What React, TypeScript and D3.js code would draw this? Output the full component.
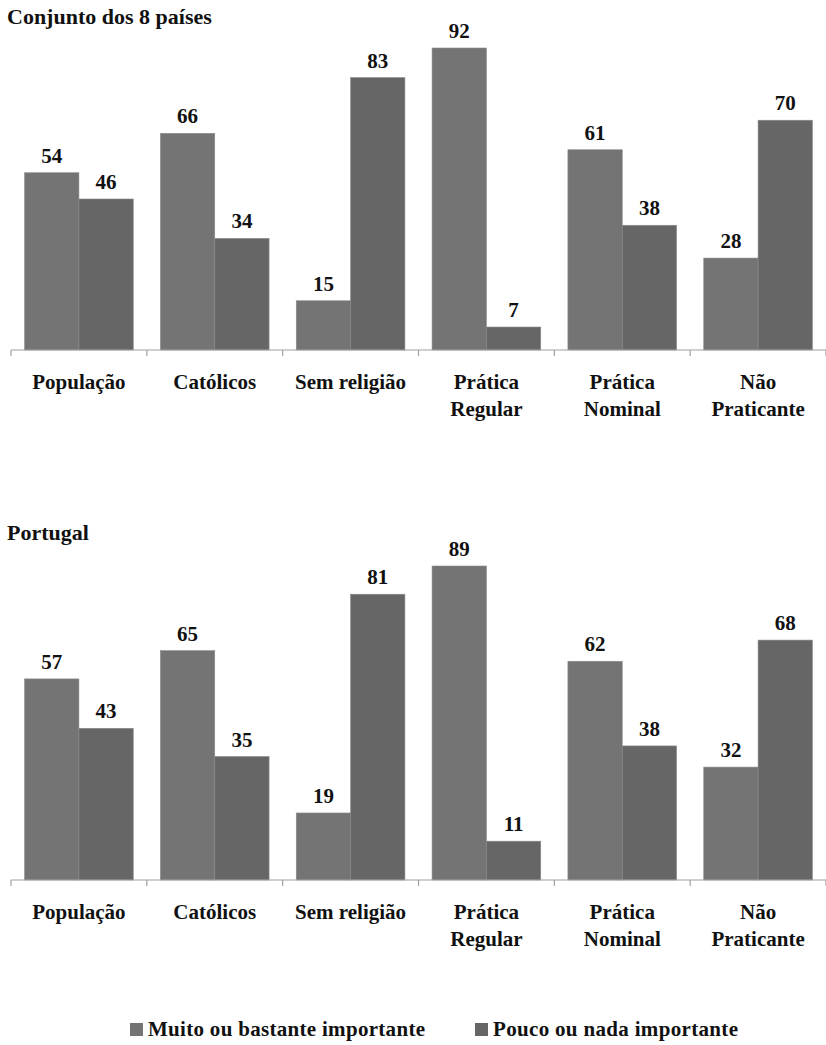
import React from 'react';
import * as d3 from 'd3';

const categories = [['População'], ['Católicos'], ['Sem religião'], ['Prática', 'Regular'], ['Prática', 'Nominal'], ['Não', 'Praticante']];
const series = ['Muito ou bastante importante', 'Pouco ou nada importante'];
const colors = ['#747474', '#666666'];

const allMuito = [54, 66, 15, 92, 61, 28];
const allPouco = [46, 34, 83, 7, 38, 70];
const ptMuito = [57, 65, 19, 89, 62, 32];
const ptPouco = [43, 35, 81, 11, 38, 68];

const font = 'Liberation Serif';

function Panel({ title, values, top, axisY, yMax }: { title: string; values: number[][]; top: number; axisY: number; yMax: number }) {
  const names = categories.map(c => c.join(' '));
  const x = d3.scaleBand().domain(names).range([11, 826]);
  const inner = d3.scaleBand().domain(series).range([x.bandwidth() * 0.1, x.bandwidth() * 0.9]);
  const y = d3.scaleLinear().domain([0, yMax]).range([axisY, top]);
  return (
    <g>
      <text x={7} y={top - 18} fontFamily={font} fontSize={22} fontWeight="bold" fill="#111">{title}</text>
      {names.map((n, i) => (
        <g key={n} transform={`translate(${x(n)},0)`}>
          {series.map((s, j) => {
            const v = values[j][i];
            return (
              <g key={s}>
                <rect x={inner(s)} y={y(v)} width={inner.bandwidth()} height={axisY - y(v)} fill={colors[j]} stroke="#8a8a8a" strokeWidth={0.6} />
                <text x={inner(s)! + inner.bandwidth() / 2} y={y(v) - 10} textAnchor="middle" fontFamily={font} fontSize={21} fontWeight="bold" fill="#111">{v}</text>
              </g>
            );
          })}
          {categories[i].map((line, k) => (
            <text key={k} x={x.bandwidth() / 2} y={axisY + 39 + k * 27} textAnchor="middle" fontFamily={font} fontSize={21} fontWeight="bold" fill="#111">{line}</text>
          ))}
        </g>
      ))}
      <line x1={11} x2={826} y1={axisY} y2={axisY} stroke="#a0a0a0" strokeWidth={1.2} />
      {d3.range(names.length + 1).map(i => {
        const tx = 11 + i * x.bandwidth();
        return <line key={i} x1={tx} x2={tx} y1={axisY} y2={axisY + 6} stroke="#a0a0a0" strokeWidth={1.2} />;
      })}
    </g>
  );
}

export default function App() {
  const legendX = [130, 475];
  const legendW = [277, 245];
  return (
    <svg width={826} height={1045} style={{ position: 'absolute', left: 0, top: 0 }}>
      <rect width={826} height={1045} fill="#fff" />
      <Panel title="Conjunto dos 8 países" values={[allMuito, allPouco]} top={42} axisY={350} yMax={92 * (308 / 302)} />
      <Panel title="Portugal" values={[ptMuito, ptPouco]} top={558} axisY={880} yMax={89 * (322 / 314)} />
      {series.map((s, j) => (
        <g key={s} transform={`translate(${legendX[j]},1029)`}>
          <rect x={0} y={-6} width={13} height={13} fill={colors[j]} />
          <text x={18} y={7} fontFamily={font} fontSize={21} fontWeight="bold" fill="#111" textLength={legendW[j]} lengthAdjust="spacing">{s}</text>
        </g>
      ))}
    </svg>
  );
}
